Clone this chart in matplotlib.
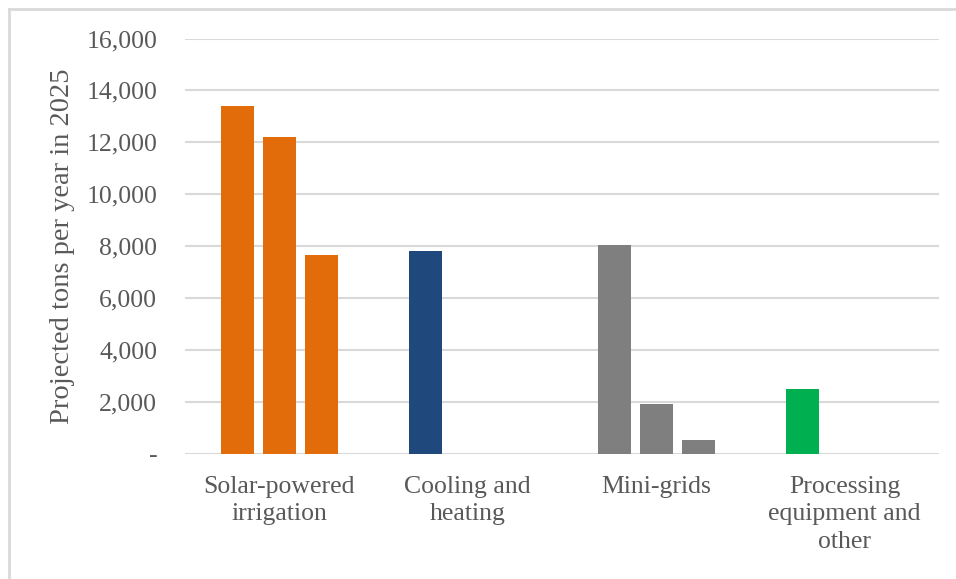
import matplotlib
matplotlib.use("Agg")
import matplotlib.pyplot as plt
from matplotlib.lines import Line2D
from matplotlib.ticker import FuncFormatter
import numpy as np


categories = ["Solar-powered\nirrigation", "Cooling and\nheating", "Mini-grids",
              "Processing\nequipment and\nother"]
series_1 = [13400, 7800, 8050, 2500]
series_2 = [12200, 0, 1925, 0]
series_3 = [7650, 0, 540, 0]
cat_colors = ["#E36C0A", "#1F497D", "#7F7F7F", "#00B050"]
y_ticks = [0, 2000, 4000, 6000, 8000, 10000, 12000, 14000, 16000]
ylabel = "Projected tons per year in 2025"

TEXT = "#595959"
GRID = "#D9D9D9"


def fmt(v, pos):
    return "-" if v == 0 else f"{v:,.0f}"


def plot() -> None:
    plt.rcParams["font.family"] = ["Liberation Serif", "DejaVu Serif"]
    fig = plt.figure(figsize=(9.56, 5.79), dpi=100)
    ax = fig.add_axes([0.1935, 0.2159, 0.9822 - 0.1935, 0.9335 - 0.2159])

    x = np.arange(len(categories))
    width = 0.175
    step = 0.2225
    for k, vals in enumerate([series_1, series_2, series_3]):
        ax.bar(x + (k - 1) * step, vals, width, color=cat_colors, zorder=3)

    ax.set_xlim(-0.5, len(categories) - 0.5)
    ax.set_ylim(0, 16000)
    ax.set_yticks(y_ticks)
    ax.yaxis.set_major_formatter(FuncFormatter(fmt))
    ax.set_xticks(x)
    ax.set_xticklabels(categories, linespacing=1.34)
    ax.grid(axis="y", color=GRID, linewidth=1.5, zorder=0)
    for s in ax.spines.values():
        s.set_visible(False)
    ax.tick_params(axis="y", length=0, pad=20, labelsize=18.5, labelcolor=TEXT)
    ax.tick_params(axis="x", length=0, pad=15.5, labelsize=18.5, labelcolor=TEXT)
    ax.set_ylabel(ylabel, fontsize=20.5, color=TEXT, labelpad=8)

    # chart frame (top and left edges only)
    fig.add_artist(Line2D([9 / 956, 1], [1 - 9 / 579] * 2, color=GRID,
                          linewidth=2, transform=fig.transFigure))
    fig.add_artist(Line2D([9 / 956] * 2, [0, 1 - 9 / 579], color=GRID,
                          linewidth=2, transform=fig.transFigure))

    fig.savefig("out.png", dpi=100, facecolor="white")


if __name__ == "__main__":
    plot()
